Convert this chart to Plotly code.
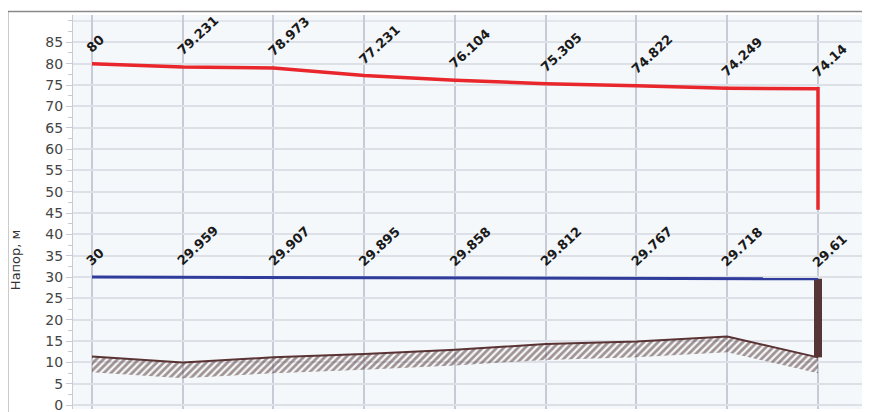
import plotly.graph_objects as go

# node index along the pipe
nodes = [0, 1, 2, 3, 4, 5, 6, 7, 8]

# piezometric head (red) and its labels
head_red = [80, 79.231, 78.973, 77.231, 76.104, 75.305, 74.822, 74.249, 74.14]
red_drop_end = 45.8

# pressure line (blue)
head_blue = [30, 29.959, 29.907, 29.895, 29.858, 29.812, 29.767, 29.718, 29.61]

# ground elevation (brown, hatched below)
ground = [11.4, 10.0, 11.2, 12.0, 13.0, 14.3, 14.9, 16.1, 11.2]
hatch_depth = 3.7

ytick_vals = list(range(0, 90, 5))

# the page body has an 8px margin, so the plot area is placed with that in mind
OFF = 8
PL, PT, PW, PH = 73, 15, 797, 397   # plot area in window pixels

fig = go.Figure()

# hatched band under the ground line
fig.add_trace(go.Scatter(x=nodes, y=[g - hatch_depth for g in ground], mode="lines",
                         line=dict(width=0), showlegend=False, hoverinfo="skip"))
fig.add_trace(go.Scatter(x=nodes, y=ground, mode="lines",
                         line=dict(color="#5a3434", width=2),
                         fill="tonexty", fillcolor="rgba(0,0,0,0)",
                         fillpattern=dict(shape="/", fgcolor="#4e2e2e", bgcolor="rgba(0,0,0,0)",
                                          size=5, solidity=0.55),
                         showlegend=False))

# vertical bar from ground to blue line at the last node
fig.add_trace(go.Scatter(x=[nodes[-1], nodes[-1]], y=[ground[-1], head_blue[-1]], mode="lines",
                         line=dict(color="#553536", width=8), showlegend=False))

fig.add_trace(go.Scatter(x=nodes, y=head_blue, mode="lines",
                         line=dict(color="#2f3c9c", width=3), showlegend=False))

fig.add_trace(go.Scatter(x=nodes + [nodes[-1]], y=head_red + [red_drop_end], mode="lines",
                         line=dict(color="#e8262b", width=3.5), showlegend=False))

# value labels, rotated
lab_font = dict(family="DejaVu Sans", size=13, color="#1a1a1a")
for vals in [head_red, head_blue]:
    for x, v in zip(nodes, vals):
        fig.add_annotation(x=x, y=v, text="<b>%g</b>" % v, showarrow=False,
                           textangle=-43, xanchor="left", yanchor="bottom",
                           xshift=-11, yshift=6, font=lab_font)


def px(xw):
    return (xw - PL) / PW


def py(yw):
    return (PT + PH - yw) / PH


# axis title
fig.add_annotation(xref="paper", yref="paper", x=px(15), y=py(262),
                   xanchor="center", yanchor="middle",
                   text="Напор, м", textangle=-90, showarrow=False,
                   font=dict(family="DejaVu Sans", size=13, color="#333"))

# 90 gridline (no label) and window frame
fig.add_shape(type="line", xref="paper", yref="y", x0=0, x1=1, y0=90, y1=90,
              line=dict(color="#dde1e7", width=1.5), layer="below")
fig.add_shape(type="line", xref="paper", yref="paper", x0=px(8), x1=px(866),
              y0=py(11.5), y1=py(11.5), line=dict(color="#8a8a8a", width=1.5))
fig.add_shape(type="line", xref="paper", yref="paper", x0=px(7.5), x1=px(7.5),
              y0=py(420), y1=py(11.5), line=dict(color="#333", width=1.5))

fig.update_xaxes(range=[-0.209, 8.573], tickvals=nodes, showticklabels=False,
                 showgrid=True, gridcolor="#c7cbd6", gridwidth=1.5, zeroline=False, showline=False)
fig.update_yaxes(range=[-0.9, 91.4], tickvals=ytick_vals, showgrid=True, gridcolor="#dde1e7",
                 gridwidth=1.5, zeroline=False, showline=True, linecolor="#c7cbd6", linewidth=1,
                 ticks="outside", ticklen=6, tickcolor="#c7cbd6",
                 minor=dict(dtick=2.5, ticks="outside", ticklen=4, tickcolor="#c7cbd6", showgrid=False),
                 tickfont=dict(family="DejaVu Sans", size=14, color="#444"))

fig.update_layout(width=870, height=412,
                  margin=dict(l=PL - OFF, r=870 - (PL - OFF) - PW, t=PT - OFF,
                              b=412 - (PT - OFF) - PH),
                  plot_bgcolor="#f5f8fa", paper_bgcolor="white", showlegend=False)

fig.write_html("out.html")
